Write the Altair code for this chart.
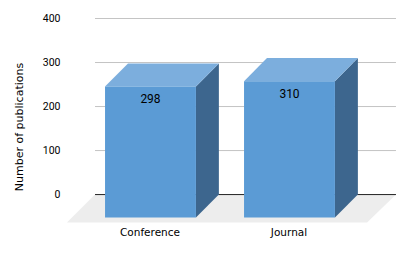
import altair as alt
import pandas as pd

categories = ["Conference", "Journal"]
values = [298, 310]
y_ticks = [0, 100, 200, 300, 400]
y_title = "Number of publications"

# 3D projection constants (category units on x, value units on y)
half_w = 0.327
dx = 0.165
dy = 52.3
floor_front = -63.6
grid_x = (-0.399, 1.766)
floor_left = (-0.601, -0.399)
floor_right = (1.558, 1.766)
x_dom = [-0.615, 1.795]
y_dom = [-68, 400]

FONT = "Roboto"
AXFONT = "DejaVu Sans"
x_s = alt.Scale(domain=x_dom, nice=False, zero=False)
y_s = alt.Scale(domain=y_dom, nice=False, zero=False)

front, side, top = [], [], []
for i, (c, v) in enumerate(zip(categories, values)):
    l, r = i - half_w, i + half_w
    front.append(dict(cat=c, l=l, r=r, t=v - dy, b=-dy, v=v, c=i))
    side += [dict(cat=c, x=r, t=v - dy, b=-dy), dict(cat=c, x=r + dx, t=v, b=0)]
    top += [dict(cat=c, y=v - dy, x1=l, x2=r), dict(cat=c, y=v, x1=l + dx, x2=r + dx)]

X = lambda f, **k: alt.X(f, type="quantitative", scale=x_s, title=None, **k)
Y = lambda f, **k: alt.Y(f, type="quantitative", scale=y_s, title=y_title, **k)

base_axes = alt.Chart(pd.DataFrame({"x": [0, 1], "y": [0, 400]})).mark_point(opacity=0).encode(
    x=alt.X("x:Q", scale=x_s, title=None, axis=alt.Axis(
        values=[0, 1], domain=False, ticks=False, grid=False,
        labelExpr="datum.value == 0 ? 'Conference' : 'Journal'",
        labelFont=AXFONT, labelFontSize=10.5, labelColor="#000000", labelPadding=3,
        labelOffset=-1, labelOverlap=False)),
    y=alt.Y("y:Q", scale=y_s, title=y_title, axis=alt.Axis(
        values=y_ticks, domain=False, ticks=False, grid=False,
        labelFont=FONT, labelFontSize=10.5, labelColor="#000000", labelPadding=5,
        titleFont=AXFONT, titleFontSize=11, titleColor="#000000", titleFontWeight="normal",
        titlePadding=18, titleY=108)),
)

grid_df = pd.DataFrame({"y": y_ticks, "x": grid_x[0], "x2": grid_x[1]})
grid = alt.Chart(grid_df[grid_df.y > 0]).mark_rule(color="#C4C4C4", strokeWidth=1).encode(
    x=X("x"), x2="x2", y=Y("y"))
zero = alt.Chart(grid_df[grid_df.y == 0]).mark_rule(color="#222222", strokeWidth=1).encode(
    x=X("x"), x2="x2", y=Y("y"))

floor_df = pd.DataFrame([
    dict(y=floor_front, x1=floor_left[0], x2=floor_right[0]),
    dict(y=0, x1=floor_left[1], x2=floor_right[1]),
])
floor = alt.Chart(floor_df).mark_area(orient="horizontal", color="#EDEDED").encode(
    y=Y("y"), x=X("x1", stack=None), x2="x2")

side_l = alt.Chart(pd.DataFrame(side)).mark_area(color="#3D668E").encode(
    x=X("x"), y=Y("t", stack=None), y2="b", detail="cat:N")
top_l = alt.Chart(pd.DataFrame(top)).mark_area(orient="horizontal", color="#7CAEDD").encode(
    y=Y("y"), x=X("x1", stack=None), x2="x2", detail="cat:N")

fr = pd.DataFrame(front)
front_l = alt.Chart(fr).mark_rect(color="#5B9BD5").encode(x=X("l"), x2="r", y=Y("t"), y2="b")
text_l = alt.Chart(fr).mark_text(font=FONT, fontSize=12, color="#000000", dy=13).encode(
    x=X("c"), y=Y("t"), text=alt.Text("v:Q"))

chart = alt.layer(base_axes, grid, floor, zero, side_l, top_l, front_l, text_l).properties(
    width=335, height=206, padding={"left": 5, "top": 5.5, "right": 0, "bottom": 0}
).configure_view(stroke=None)

chart.save("out.html", embed_options={"renderer": "svg", "actions": False})
